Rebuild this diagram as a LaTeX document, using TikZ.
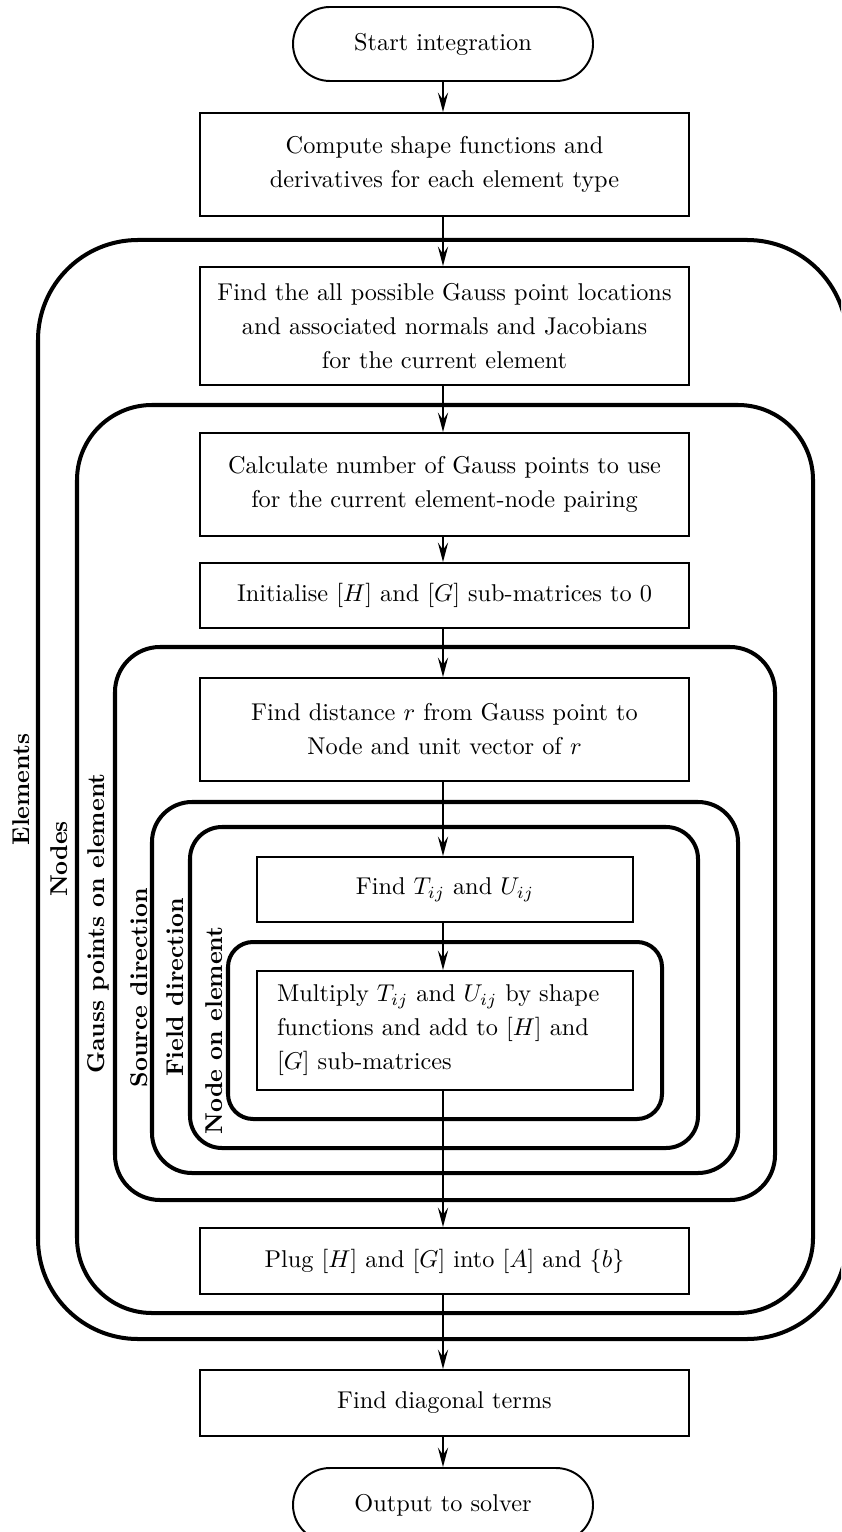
\documentclass[tikz,border=0pt]{standalone}
\usetikzlibrary{arrows.meta,shapes.misc}
% one drawing unit
\newcommand\pxu{0.41152pt}
\tikzset{
  x=\pxu, y=-\pxu,
  txt/.style={font=\fontsize{10}{14}\selectfont},
  procbox/.style={txt, draw, line width=0.8pt, rectangle, align=center,
    inner sep=0pt, minimum width=489*\pxu, minimum height=#1*\pxu},
  innerbox/.style={procbox=#1, minimum width=376*\pxu},
  terminal/.style={txt, draw, line width=0.8pt, rounded rectangle, inner sep=0pt,
    minimum width=300*\pxu, minimum height=74*\pxu},
  frame/.style={draw, line width=1.65pt, rectangle, rounded corners=#1*\pxu, inner sep=0pt},
  framelabel/.style={rotate=90, anchor=base, font=\bfseries, inner sep=0pt},
  flow/.style={line width=0.8pt, -{Stealth[length=8pt,width=4.2pt,inset=3pt]}},
}
\begin{document}
\begin{tikzpicture}
\useasboundingbox (0,0) rectangle (841,1532);
\begin{scope}
\clip (0,0) rectangle (841,1532);

% nested loop frames
\node[frame=100, minimum width=809*\pxu, minimum height=1099*\pxu] (elements) at (442.5,789.5) {};
\node[frame=75, minimum width=736*\pxu, minimum height=908*\pxu] (nodes) at (445,859) {};
\node[frame=45, minimum width=660*\pxu, minimum height=553*\pxu] (gauss) at (445,923.5) {};
\node[frame=40, minimum width=586*\pxu, minimum height=371*\pxu] (source) at (445,987.5) {};
\node[frame=32, minimum width=508*\pxu, minimum height=321*\pxu] (field) at (444,987.5) {};
\node[frame=25, minimum width=434*\pxu, minimum height=177*\pxu] (noe) at (445,1030.5) {};

% loop labels
\node[framelabel] (elementslab) at (30,789.5) {Elements};
\node[framelabel] (nodeslab) at (67,859) {Nodes};
\node[framelabel] (gausslab) at (104,923.5) {Gauss points on element};
\node[framelabel] (sourcelab) at (147,987.5) {Source direction};
\node[framelabel] (fieldlab) at (183,987.5) {Field direction};
\node[framelabel] (noelab) at (222,1030.5) {Node on element};

% process steps
\node[terminal] (start) at (443,44) {Start integration};
\node[procbox=103] (shape) at (444.5,164.5) {Compute shape functions and\\derivatives for each element type};
\node[procbox=118] (locs) at (444.5,326) {Find the all possible Gauss point locations\\and associated normals and Jacobians\\for the current element};
\node[procbox=103] (count) at (444.5,484.5) {Calculate number of Gauss points to use\\for the current element-node pairing};
\node[procbox=65] (init) at (444.5,595.5) {Initialise $[H]$ and $[G]$ sub-matrices to 0};
\node[procbox=103] (dist) at (444.5,729.5) {Find distance $r$ from Gauss point to\\Node and unit vector of $r$};
\node[innerbox=65] (tu) at (445,889.5) {Find $T_{ij}$ and $U_{ij}$};
\node[innerbox=119, align=left, text width=336*\pxu] (mult) at (445,1030.5) {Multiply $T_{ij}$ and $U_{ij}$ by shape\\functions and add to $[H]$ and\\$[G]$ sub-matrices};
\node[procbox=66] (plug) at (444.5,1261) {Plug $[H]$ and $[G]$ into $[A]$ and $\{b\}$};
\node[procbox=66] (diag) at (444.5,1403) {Find diagonal terms};
\node[terminal] (out) at (443,1505) {Output to solver};

% flow arrows
\draw[flow] (start.south) -- (start.south |- shape.north);
\draw[flow] (shape.south -| start.south) -- (start.south |- locs.north);
\draw[flow] (locs.south -| start.south) -- (start.south |- count.north);
\draw[flow] (count.south -| start.south) -- (start.south |- init.north);
\draw[flow] (init.south -| start.south) -- (start.south |- dist.north);
\draw[flow] (dist.south -| start.south) -- (start.south |- tu.north);
\draw[flow] (tu.south -| start.south) -- (start.south |- mult.north);
\draw[flow] (mult.south -| start.south) -- (start.south |- plug.north);
\draw[flow] (plug.south -| start.south) -- (start.south |- diag.north);
\draw[flow] (diag.south -| start.south) -- (out.north);
\end{scope}
\end{tikzpicture}
\end{document}
